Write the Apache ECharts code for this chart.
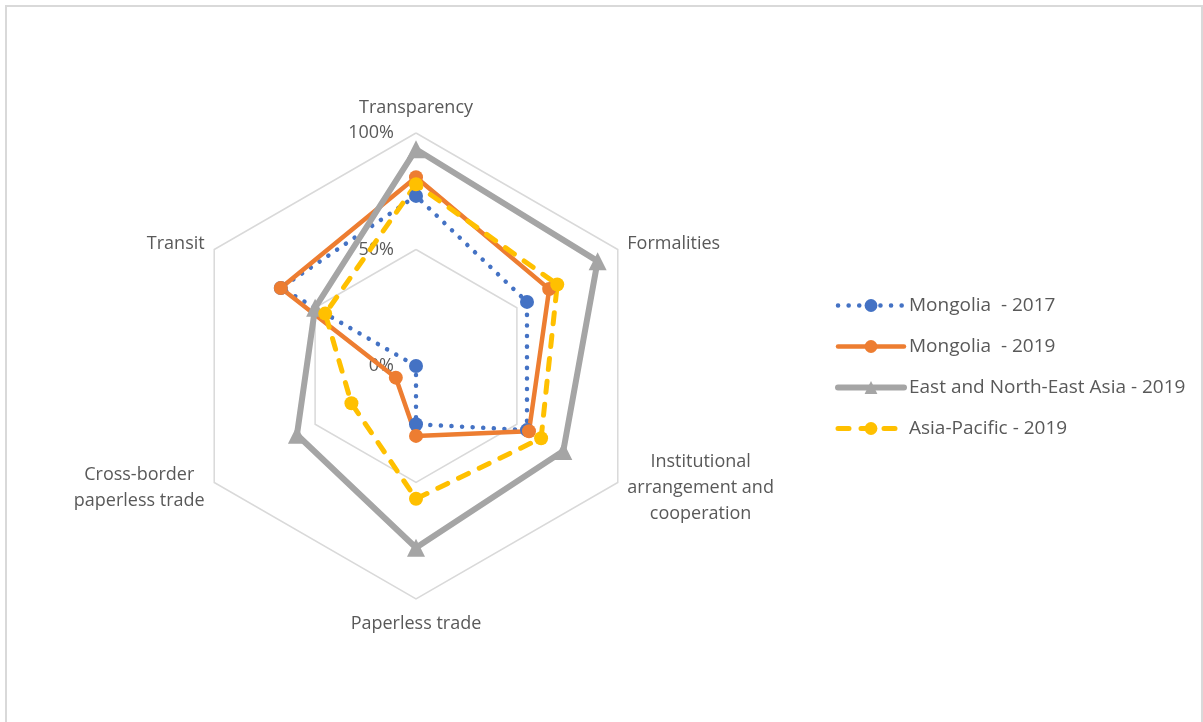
<!DOCTYPE html>
<html><head><meta charset="utf-8">
<script src="https://cdn.jsdelivr.net/npm/echarts@6/dist/echarts.min.js"></script>
<style>html,body{margin:0;padding:0;background:#fff}#c{width:1203px;height:722px}</style>
</head><body><div id="c"></div>
<script>
// Axes in clockwise order as in the picture (starting at top)
const categories = ['Transparency', 'Formalities', 'Institutional\narrangement and\ncooperation', 'Paperless trade', 'Cross-border\npaperless trade', 'Transit'];
const seriesNames = ['Mongolia  - 2017', 'Mongolia  - 2019', 'East and North-East Asia - 2019', 'Asia-Pacific - 2019'];
const mongolia2017 = [73, 55, 55, 25, 0, 67];
const mongolia2019 = [81, 66, 56, 30, 10, 67];
const eastNorthEastAsia2019 = [93, 90, 73, 78, 59, 50];
const asiaPacific2019 = [78, 70, 62, 57, 32, 45];
const tickLabels = ['0%', '50%', '100%'];

const FONT = '"Open Sans", "Liberation Sans", sans-serif';
const TXT = '#595959';
const FS = 18;
const styles = [
  { color: '#4472C4', width: 4.5, type: [0.1, 10.5], symbol: 'circle', size: 14 },
  { color: '#ED7D31', width: 4.5, type: 'solid', symbol: 'circle', size: 14 },
  { color: '#A5A5A5', width: 6, type: 'solid', symbol: 'triangle', size: 18 },
  { color: '#FFC000', width: 5, type: [11, 12], symbol: 'circle', size: 14 }
];
const values = [mongolia2017, mongolia2019, eastNorthEastAsia2019, asiaPacific2019];

// ECharts places radar indicators counter-clockwise; reorder to get the clockwise layout
const order = [0, 5, 4, 3, 2, 1];
const indicator = order.map(function (i, k) {
  const ind = { name: categories[i], min: 0, max: 100 };
  if (k === 0) {
    ind.axisLabel = {
      show: true, color: TXT, fontSize: FS, fontFamily: FONT, margin: 22, align: 'right',
      formatter: function (v) { return tickLabels[Math.round(v / 50)]; }
    };
  }
  return ind;
});

const chart = echarts.init(document.getElementById('c'), null, { renderer: 'canvas' });
chart.setOption({
  animation: false,
  graphic: [{
    type: 'rect', silent: true, z: -10,
    shape: { x: 6, y: 6, width: 1196, height: 740 },
    style: { fill: 'none', stroke: '#D9D9D9', lineWidth: 2 }
  }],
  legend: {
    orient: 'vertical', left: 830, top: 291,
    itemWidth: 66, itemHeight: 16, itemGap: 22,
    textStyle: { color: TXT, fontSize: 19, fontFamily: FONT },
    data: seriesNames.map(function (n, s) {
      return { name: n, lineStyle: { width: styles[s].width } };
    })
  },
  grid: { left: -100, top: -100, width: 10, height: 10 },
  xAxis: { type: 'category', show: false, data: [] },
  yAxis: { type: 'value', show: false },
  radar: {
    center: [416, 366], radius: 233, startAngle: 90,
    shape: 'polygon', splitNumber: 2,
    axisNameGap: 11,
    axisName: {
      color: TXT, fontSize: FS, fontFamily: FONT, lineHeight: 28,
      formatter: function (name) {
        if (name.indexOf('\n') < 0) return name;
        return name.split('\n').map(function (l) { return '{c|' + l + '}'; }).join('\n');
      },
      rich: { c: { align: 'center', color: TXT, fontSize: FS, fontFamily: FONT, lineHeight: 26 } }
    },
    nameGap: 11,
    axisLine: { show: false },
    axisTick: { show: false },
    axisLabel: { show: false },
    splitArea: { show: false },
    splitLine: { lineStyle: { color: '#D9D9D9', width: 1.5 } },
    indicator: indicator
  },
  series: [{
    type: 'radar',
    data: values.map(function (vals, s) {
      const st = styles[s];
      return {
        name: seriesNames[s],
        value: order.map(function (i) { return vals[i]; }),
        symbol: st.symbol, symbolSize: st.size,
        itemStyle: { color: st.color },
        lineStyle: { color: st.color, width: st.width, type: st.type, cap: 'round', join: 'round' }
      };
    })
  }].concat(seriesNames.map(function (n, s) {
    const st = styles[s];
    return {
      type: 'line', name: n, data: [], symbol: st.symbol, symbolSize: st.size,
      itemStyle: { color: st.color },
      lineStyle: { color: st.color, width: st.width, type: st.type, cap: 'round' }
    };
  }))
});
</script></body></html>
